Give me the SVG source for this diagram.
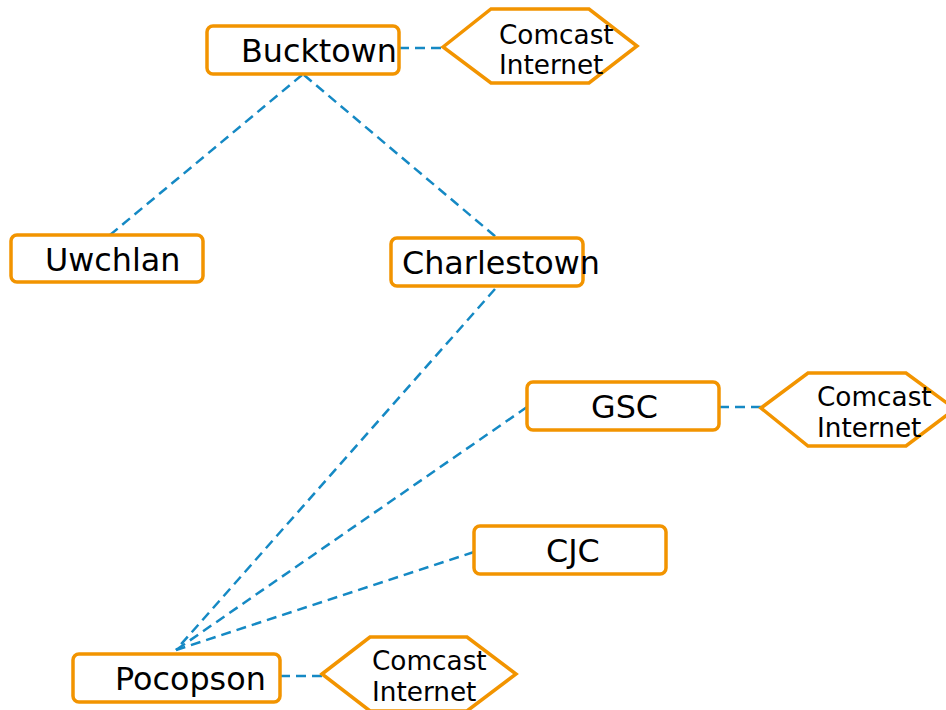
<svg xmlns="http://www.w3.org/2000/svg" width="946" height="710" viewBox="0 0 946 710">
<style>
.box{fill:#fff;stroke:#f29400;stroke-width:3.5}
.lbl{font-family:"DejaVu Sans",sans-serif;font-size:31.8px;fill:#000}
.sm{font-family:"DejaVu Sans",sans-serif;font-size:26.3px;fill:#000}
.edge{stroke:#1589c4;stroke-width:2.5;stroke-dasharray:10,6;fill:none}
</style>
<rect width="946" height="710" fill="#fff"/>
<g id="connectors">
<line class="edge" x1="399" y1="48" x2="443" y2="48"/>
<line class="edge" x1="302" y1="75" x2="110" y2="235"/>
<line class="edge" x1="304" y1="75" x2="496" y2="237"/>
<line class="edge" x1="495" y1="289" x2="176" y2="650"/>
<line class="edge" x1="527" y1="407" x2="176" y2="650"/>
<line class="edge" x1="474" y1="552" x2="176" y2="650"/>
<line class="edge" x1="280" y1="676" x2="322" y2="676"/>
<line class="edge" x1="719" y1="407" x2="761" y2="407"/>
</g>
<g id="bucktown">
<rect class="box" x="207" y="26" width="192" height="48" rx="6"/>
<text class="lbl" x="241" y="62">Bucktown</text>
</g>
<g id="comcast1">
<polygon class="box" points="443,47 491,9 589,9 637,46 589,83 491,83"/>
<text class="sm" x="499" y="44">Comcast</text>
<text class="sm" x="499" y="74">Internet</text>
</g>
<g id="uwchlan">
<rect class="box" x="11" y="235" width="192" height="47" rx="6"/>
<text class="lbl" x="45" y="271">Uwchlan</text>
</g>
<g id="charlestown">
<rect class="box" x="391" y="238" width="192" height="48" rx="6"/>
<text class="lbl" x="402" y="274">Charlestown</text>
</g>
<g id="gsc">
<rect class="box" x="527" y="382" width="192" height="48" rx="6"/>
<text class="lbl" x="591" y="418">GSC</text>
</g>
<g id="comcast2">
<polygon class="box" points="761,408 808,373 906,373 955,409 906,446 808,446"/>
<text class="sm" x="817" y="406">Comcast</text>
<text class="sm" x="817" y="437">Internet</text>
</g>
<g id="cjc">
<rect class="box" x="474" y="526" width="192" height="48" rx="6"/>
<text class="lbl" x="546" y="562">CJC</text>
</g>
<g id="pocopson">
<rect class="box" x="73" y="654" width="207" height="48" rx="6"/>
<text class="lbl" x="115" y="690">Pocopson</text>
</g>
<g id="comcast3">
<polygon class="box" points="322,674 370,637 467,637 516,674 467,711 370,711"/>
<text class="sm" x="372" y="670">Comcast</text>
<text class="sm" x="372" y="701">Internet</text>
</g>
</svg>
